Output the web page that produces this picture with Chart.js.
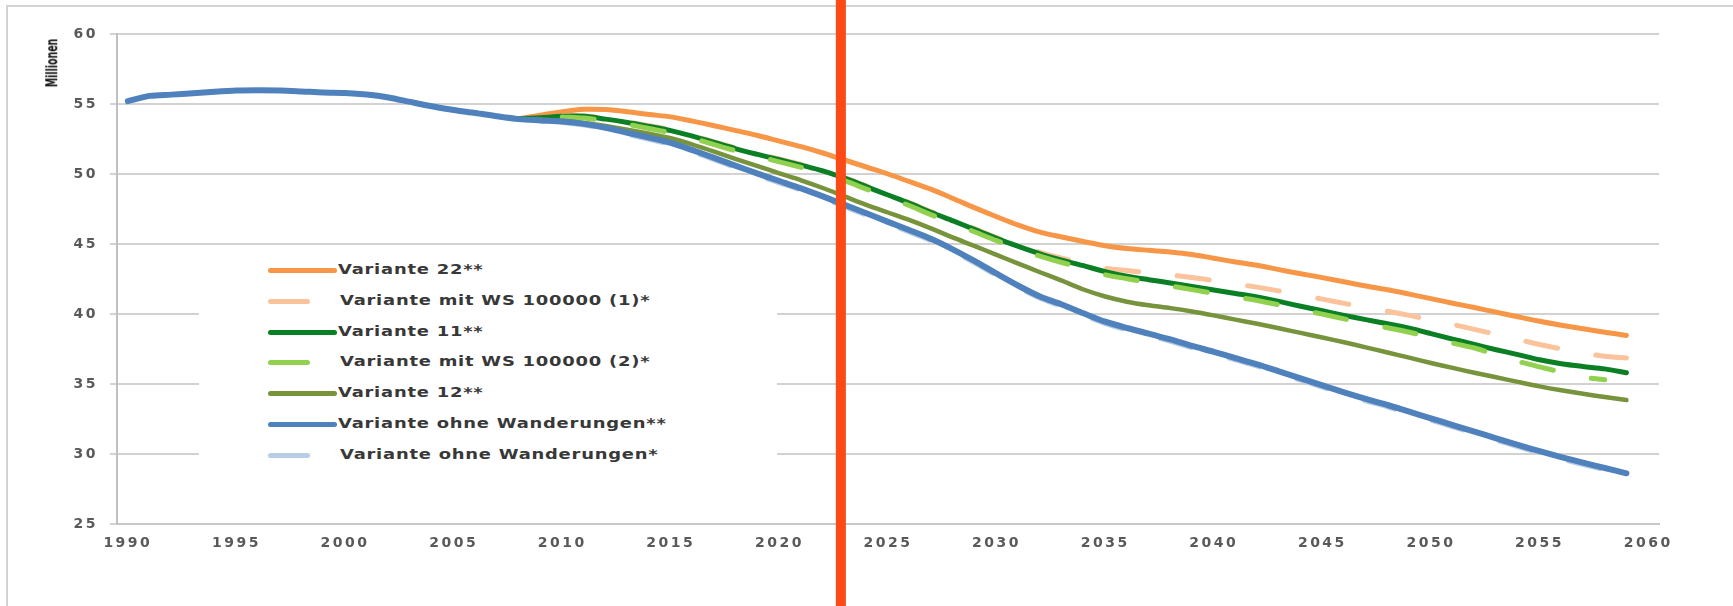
<!DOCTYPE html>
<html lang="de">
<head>
<meta charset="utf-8">
<title>Bevölkerung im Erwerbsalter – Varianten</title>
<script src="https://cdn.jsdelivr.net/npm/chart.js@4.4.1/dist/chart.umd.min.js"></script>
<style>
  html, body { margin: 0; padding: 0; background: #fff; }
  #wrap { position: relative; width: 1733px; height: 606px; overflow: hidden; }
  #legend { position: absolute; left: 199px; top: 252px; width: 578px; height: 226px; background: #fff; }
  .row { position: absolute; left: 0; width: 578px; height: 20px; }
  .sample { position: absolute; left: 69px; top: 7px; height: 5px; border-radius: 3px; }
  .text { position: absolute; top: 0; line-height: 20px; white-space: nowrap;
          font: bold 14px "DejaVu Sans", sans-serif; letter-spacing: 0.6px; color: #383838;
          transform: scaleX(1.28); transform-origin: 0 50%; }
  #ytitle { position: absolute; left: 52px; top: 63px; white-space: nowrap;
            transform: translate(-50%, -50%) rotate(-90deg) scale(0.95, 1.5);
            font: bold 11px "DejaVu Sans Condensed", "DejaVu Sans", sans-serif; color: #111; }
</style>
</head>
<body>
<div id="wrap">
  <canvas id="chart" width="1733" height="606"></canvas>
  <div id="ytitle">Millionen</div>
  <div id="legend"></div>
</div>
<script>
const years = [
  1990, 1991, 1992, 1993, 1994, 1995, 1996, 1997, 1998, 1999,
  2000, 2001, 2002, 2003, 2004, 2005, 2006, 2007, 2008, 2009,
  2010, 2011, 2012, 2013, 2014, 2015, 2016, 2017, 2018, 2019,
  2020, 2021, 2022, 2023, 2024, 2025, 2026, 2027, 2028, 2029,
  2030, 2031, 2032, 2033, 2034, 2035, 2036, 2037, 2038, 2039,
  2040, 2041, 2042, 2043, 2044, 2045, 2046, 2047, 2048, 2049,
  2050, 2051, 2052, 2053, 2054, 2055, 2056, 2057, 2058, 2059,
  2060
];
const xTicks = [1990, 1995, 2000, 2005, 2010, 2015, 2020, 2025, 2030, 2035, 2040, 2045, 2050, 2055, 2060];
const yTicks = [25, 30, 35, 40, 45, 50, 55, 60];

// Millionen, one value per year (null = no value)
const variante22 = [
  null, null, null, null, null, null, null, null, null, null,
  null, null, null, null, null, null, null, null, 53.95, 54.2,
  54.45, 54.62, 54.6, 54.45, 54.25, 54.08, 53.78, 53.45, 53.1, 52.75,
  52.35, 51.95, 51.5, 51.0, 50.5, 50.0, 49.45, 48.9, 48.25, 47.58,
  46.95, 46.35, 45.85, 45.5, 45.18, 44.88, 44.68, 44.55, 44.43, 44.25,
  43.98, 43.72, 43.48, 43.17, 42.88, 42.6, 42.3, 42.0, 41.73, 41.42,
  41.1, 40.77, 40.46, 40.13, 39.8, 39.48, 39.2, 38.95, 38.7, 38.47,
  null
];
const ws100000a = [
  null, null, null, null, null, null, null, null, null, null,
  null, null, null, null, null, null, null, null, null, null,
  54.15, 54.16, 53.97, 53.73, 53.45, 53.15, 52.75, 52.3, 51.85, 51.45,
  51.07, 50.68, 50.27, 49.75, 49.15, 48.55, 47.95, 47.3, 46.7, 46.08,
  45.45, 44.9, 44.4, 43.98, 43.62, 43.26, 43.1, 42.95, 42.78, 42.6,
  42.38, 42.15, 41.92, 41.65, 41.35, 41.06, 40.76, 40.48, 40.2, 39.9,
  39.57, 39.25, 38.9, 38.55, 38.18, 37.82, 37.5, 37.22, 36.98, 36.85,
  null
];
const variante11 = [
  null, null, null, null, null, null, null, null, null, null,
  null, null, null, null, null, null, null, null, 53.95, 54.02,
  54.12, 54.12, 53.92, 53.68, 53.4, 53.1, 52.7, 52.25, 51.8, 51.4,
  51.02, 50.63, 50.22, 49.7, 49.1, 48.5, 47.9, 47.25, 46.65, 46.03,
  45.4, 44.83, 44.3, 43.85, 43.45, 43.03, 42.7, 42.45, 42.22, 41.97,
  41.72, 41.47, 41.22, 40.9, 40.55, 40.23, 39.9, 39.6, 39.3, 38.98,
  38.6, 38.2, 37.83, 37.45, 37.1, 36.73, 36.45, 36.25, 36.08, 35.8,
  null
];
const ws100000b = [
  null, null, null, null, null, null, null, null, null, null,
  null, null, null, null, null, null, null, null, null, null,
  54.08, 54.0, 53.8, 53.55, 53.25, 52.94, 52.55, 52.1, 51.65, 51.25,
  50.87, 50.47, 50.05, 49.52, 48.92, 48.33, 47.73, 47.08, 46.48, 45.86,
  45.24, 44.66, 44.13, 43.68, 43.27, 42.8, 42.52, 42.25, 42.0, 41.74,
  41.48, 41.23, 40.97, 40.65, 40.3, 39.99, 39.65, 39.32, 39.02, 38.7,
  38.32, 37.92, 37.57, 37.1, 36.62, 36.22, 35.85, 35.5, 35.3, null,
  null
];
const variante12 = [
  null, null, null, null, null, null, null, null, null, null,
  null, null, null, null, null, null, null, null, 53.95, 53.88,
  53.8, 53.65, 53.43, 53.17, 52.88, 52.55, 52.1, 51.6, 51.07, 50.56,
  50.05, 49.55, 49.0, 48.4, 47.8, 47.25, 46.7, 46.1, 45.45, 44.85,
  44.22, 43.6, 42.98, 42.38, 41.75, 41.25, 40.88, 40.62, 40.42, 40.18,
  39.9, 39.6, 39.3, 38.98, 38.65, 38.32, 37.98, 37.62, 37.25, 36.88,
  36.5, 36.15, 35.8, 35.48, 35.15, 34.83, 34.55, 34.3, 34.07, 33.85,
  null
];
const ohneWanderungen2 = [
  55.2, 55.58, 55.67, 55.76, 55.88, 55.97, 55.99, 55.97, 55.9, 55.82,
  55.79, 55.68, 55.47, 55.15, 54.84, 54.57, 54.36, 54.12, 53.92, 53.83,
  53.75, 53.58, 53.3, 52.95, 52.6, 52.22, 51.7, 51.15, 50.58, 50.03,
  49.5, 48.97, 48.4, 47.8, 47.2, 46.58, 45.98, 45.35, 44.6, 43.77,
  42.88, 42.02, 41.25, 40.68, 40.05, 39.45, 39.0, 38.6, 38.18, 37.72,
  37.3, 36.85, 36.4, 35.9, 35.4, 34.9, 34.4, 33.93, 33.5, 33.02,
  32.55, 32.07, 31.6, 31.12, 30.65, 30.2, 29.78, 29.38, 29.0, 28.62,
  null
];
const ohneWanderungen1 = [
  null, null, null, null, null, null, null, null, null, null,
  null, null, null, null, null, null, null, null, null, null,
  53.68, 53.5, 53.2, 52.84, 52.48, 52.1, 51.58, 51.02, 50.45, 49.9,
  49.37, 48.84, 48.27, 47.67, 47.07, 46.45, 45.85, 45.22, 44.47, 43.64,
  42.75, 41.89, 41.12, 40.55, 39.92, 39.32, 38.87, 38.47, 38.05, 37.59,
  37.17, 36.72, 36.27, 35.77, 35.27, 34.77, 34.27, 33.8, 33.37, 32.89,
  32.42, 31.94, 31.47, 30.99, 30.52, 30.07, 29.65, 29.25, 28.87, null,
  null
];
const markerYear = 2022.83;

function series(values) {
  return years.map((year, i) => ({ x: year, y: values[i] }));
}

const dash = [32, 39];
const tickFont = { family: '"DejaVu Sans", sans-serif', size: 14, weight: 'bold' };

// frame around the chart, wider letters, and the red marker line
const overlay = {
  id: 'overlay',
  beforeDraw(chart) {
    const ctx = chart.ctx;
    ctx.save();
    ctx.strokeStyle = '#D3D3D3';
    ctx.lineWidth = 2;
    ctx.strokeRect(7, 6, chart.width + 20, chart.height + 20);
    ctx.restore();
    ctx.letterSpacing = '2.5px';
  },
  afterDraw(chart) {
    const ctx = chart.ctx;
    const x = chart.scales.x.getPixelForValue(markerYear);
    ctx.save();
    ctx.fillStyle = '#FB4A16';
    ctx.fillRect(x - 5, 0, 10, chart.height);
    ctx.restore();
  }
};

const ctx = document.getElementById('chart').getContext('2d');
const chart = new Chart(ctx, {
  type: 'line',
  data: {
    datasets: [
      { label: 'Variante 22**', data: series(variante22), borderColor: '#F79646', borderWidth: 5, order: 7 },
      { label: 'Variante mit WS 100000 (1)*', data: series(ws100000a), borderColor: '#FAC39B', borderWidth: 5, borderDash: dash, order: 6 },
      { label: 'Variante 11**', data: series(variante11), borderColor: '#0A7F24', borderWidth: 5, order: 5 },
      { label: 'Variante mit WS 100000 (2)*', data: series(ws100000b), borderColor: '#92D050', borderWidth: 5, borderDash: dash, order: 4 },
      { label: 'Variante 12**', data: series(variante12), borderColor: '#77933C', borderWidth: 4.5, order: 3 },
      { label: 'Variante ohne Wanderungen**', data: series(ohneWanderungen2), borderColor: '#4F81BD', borderWidth: 6, order: 1 },
      { label: 'Variante ohne Wanderungen*', data: series(ohneWanderungen1), borderColor: '#B9CDE5', borderWidth: 5, borderDash: dash, order: 2 }
    ]
  },
  options: {
    responsive: false,
    animation: false,
    elements: {
      point: { radius: 0 },
      line: { tension: 0.3, fill: false, borderCapStyle: 'round', borderJoinStyle: 'round' }
    },
    layout: { padding: { top: 34, right: 74, left: 0, bottom: 0 } },
    plugins: {
      legend: { display: false },
      tooltip: { enabled: false }
    },
    scales: {
      x: {
        type: 'linear',
        min: 1989.5,
        max: 2060.5,
        afterBuildTicks: axis => { axis.ticks = xTicks.map(v => ({ value: v })); },
        afterFit: axis => { axis.height = 82; },
        grid: { display: false, drawTicks: false },
        border: { display: true, color: '#C8C8C8', width: 2 },
        ticks: { font: tickFont, color: '#595959', padding: 11, maxRotation: 0, callback: v => String(v) }
      },
      y: {
        min: 25,
        max: 60,
        afterBuildTicks: axis => { axis.ticks = yTicks.map(v => ({ value: v })); },
        afterFit: axis => { axis.width = 117; },
        grid: { color: '#D2D2D2', lineWidth: 2, tickLength: 7 },
        border: { color: '#C0C0C0', width: 2 },
        ticks: { font: tickFont, color: '#595959', padding: 12, callback: v => String(v) }
      }
    }
  },
  plugins: [overlay]
});

// legend inside the plot, built from the datasets
const legend = document.getElementById('legend');
chart.data.datasets.forEach((ds, i) => {
  const row = document.createElement('div');
  row.className = 'row';
  row.style.top = (9 + i * 30.8) + 'px';
  const dashed = Array.isArray(ds.borderDash);
  const sample = document.createElement('span');
  sample.className = 'sample';
  sample.style.width = (dashed ? 42 : 69) + 'px';
  sample.style.background = ds.borderColor;
  const text = document.createElement('span');
  text.className = 'text';
  text.style.left = (dashed ? 141 : 139) + 'px';
  text.textContent = ds.label;
  row.appendChild(sample);
  row.appendChild(text);
  legend.appendChild(row);
});
</script>
</body>
</html>
